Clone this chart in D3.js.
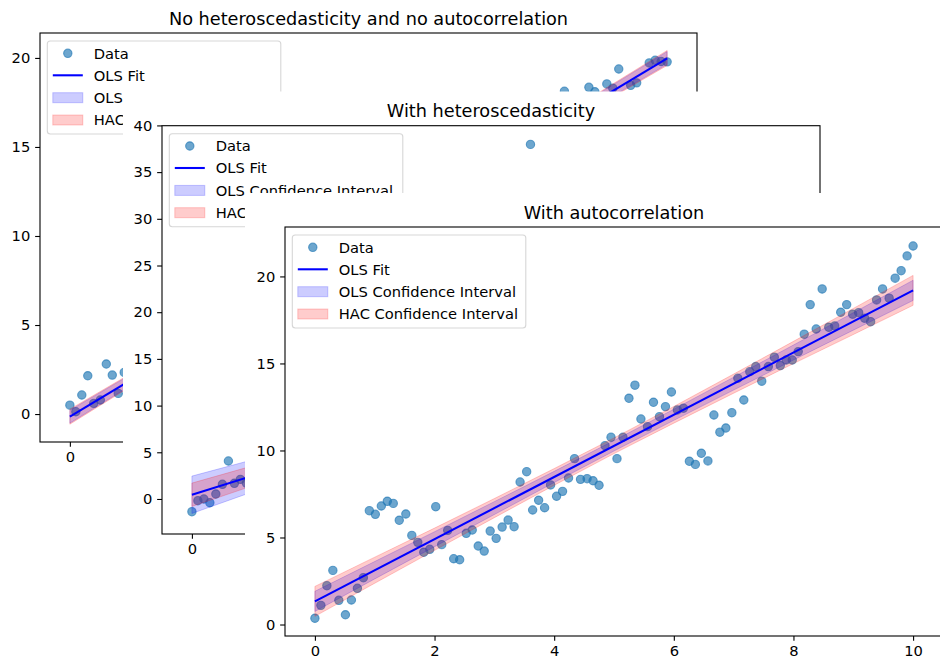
<!DOCTYPE html>
<html><head><meta charset="utf-8">
<script src="https://cdn.jsdelivr.net/npm/d3@7"></script>
<style>body{margin:0;background:#fff} text{font-family:"DejaVu Sans",sans-serif;fill:#000}</style>
</head><body><svg id="c" width="940" height="659"></svg>
<script>
// ---------- shared ----------
const xTicks = [0, 2, 4, 6, 8, 10];
const legendLabels = ["Data", "OLS Fit", "OLS Confidence Interval", "HAC Confidence Interval"];
const bandX = [0, 1, 2, 3, 4, 5, 6, 7, 8, 9, 10];
const fitX = [0, 10];

// ---------- panel 1 : No heteroscedasticity and no autocorrelation ----------
const p1Title = "No heteroscedasticity and no autocorrelation";
const p1YTicks = [0, 5, 10, 15, 20];
const p1X = [0.00, 0.10, 0.20, 0.30, 0.40, 0.51, 0.61, 0.71, 0.81, 0.91, 8.28, 8.69, 8.79, 8.99, 9.09, 9.19, 9.39, 9.49, 9.70, 9.80, 9.90, 10.00];
const p1Y = [0.50, 0.13, 1.07, 2.15, 0.60, 0.79, 2.81, 2.19, 1.16, 2.34, 18.13, 18.35, 18.10, 18.54, 18.30, 19.38, 18.46, 18.60, 19.72, 19.87, 19.80, 19.78];
const p1FitY = [-0.15, 19.98];
const p1OlsLo = [-0.51, 1.56, 3.62, 5.68, 7.72, 9.75, 11.75, 13.74, 15.71, 17.68, 19.64];
const p1OlsHi = [0.21, 2.18, 4.14, 6.12, 8.10, 10.11, 12.13, 14.18, 16.23, 18.30, 20.36];
const p1HacLo = [-0.57, 1.51, 3.58, 5.64, 7.69, 9.72, 11.72, 13.70, 15.67, 17.63, 19.58];
const p1HacHi = [0.27, 2.23, 4.18, 6.16, 8.13, 10.14, 12.16, 14.22, 16.27, 18.35, 20.42];

// ---------- panel 2 : With heteroscedasticity ----------
const p2Title = "With heteroscedasticity";
const p2YTicks = [0, 5, 10, 15, 20, 25, 30, 35, 40];
const p2X = [0.00, 0.10, 0.20, 0.30, 0.40, 0.51, 0.61, 0.71, 0.81, 0.91, 5.66];
const p2Y = [-1.36, -0.18, 0.00, -0.40, 0.53, 1.57, 4.07, 1.68, 2.10, 1.70, 37.97];
const p2FitY = [0.45, 20.45];
const p2OlsLo = [-1.55, 0.73, 2.99, 5.21, 7.37, 9.43, 11.37, 13.21, 14.99, 16.73, 18.45];
const p2OlsHi = [2.45, 4.17, 5.91, 7.69, 9.53, 11.47, 13.53, 15.69, 17.91, 20.17, 22.45];
const p2HacLo = [-0.80, 1.38, 3.54, 5.67, 7.77, 9.81, 11.77, 13.67, 15.54, 17.38, 19.20];
const p2HacHi = [1.70, 3.52, 5.36, 7.23, 9.13, 11.09, 13.13, 15.23, 17.36, 19.52, 21.70];

// ---------- panel 3 : With autocorrelation ----------
const p3Title = "With autocorrelation";
const p3YTicks = [0, 5, 10, 15, 20];
const p3X = [0.00,0.10,0.20,0.30,0.40,0.51,0.61,0.71,0.81,0.91,1.01,1.11,1.21,1.31,1.41,1.52,1.62,1.72,1.82,1.92,
  2.02,2.12,2.22,2.32,2.42,2.53,2.63,2.73,2.83,2.93,3.03,3.13,3.23,3.33,3.43,3.54,3.64,3.74,3.84,3.94,
  4.04,4.14,4.24,4.34,4.44,4.55,4.65,4.75,4.85,4.95,5.05,5.15,5.25,5.35,5.45,5.56,5.66,5.76,5.86,5.96,
  6.06,6.16,6.26,6.36,6.46,6.57,6.67,6.77,6.87,6.97,7.07,7.17,7.27,7.37,7.47,7.58,7.68,7.78,7.88,7.98,
  8.08,8.18,8.28,8.38,8.48,8.59,8.69,8.79,8.89,8.99,9.09,9.19,9.29,9.39,9.49,9.60,9.70,9.80,9.90,10.00];
const p3Y = [0.36,1.10,2.23,3.11,1.39,0.56,1.41,2.08,2.69,6.54,6.33,6.81,7.08,6.96,5.99,6.35,5.12,4.72,4.15,4.32,
  6.77,4.59,5.41,3.78,3.72,5.24,5.43,4.51,4.22,5.37,4.95,5.60,6.00,5.62,8.19,8.78,6.58,7.14,6.71,8.02,
  7.37,7.65,8.42,9.53,8.34,8.38,8.26,8.00,10.28,10.76,9.53,10.76,13.00,13.75,11.81,11.37,12.77,11.94,12.52,13.36,
  12.33,12.43,9.38,9.20,9.84,9.40,12.04,11.05,11.29,12.17,14.15,12.90,14.53,14.82,13.98,14.82,15.36,14.88,15.20,15.20,
  15.68,16.68,18.38,16.98,19.28,17.08,17.16,17.94,18.38,17.83,17.92,17.60,17.40,18.65,19.28,18.75,19.90,20.33,21.18,21.75];
const p3FitY = [1.33, 19.20];
const p3OlsLo = [0.75, 2.62, 4.47, 6.32, 8.16, 9.97, 11.73, 13.47, 15.20, 16.91, 18.62];
const p3OlsHi = [1.91, 3.62, 5.33, 7.06, 8.80, 10.57, 12.37, 14.21, 16.06, 17.91, 19.78];
const p3HacLo = [0.47, 2.37, 4.26, 6.14, 8.00, 9.82, 11.57, 13.29, 14.99, 16.66, 18.34];
const p3HacHi = [2.19, 3.87, 5.54, 7.24, 8.96, 10.72, 12.53, 14.39, 16.27, 18.16, 20.06];

// ---------- drawing ----------
const svg = d3.select("#c");
svg.append("rect").attr("width", 940).attr("height", 659).attr("fill", "#fff");

const FS = 14.7;
const TFS = 17.7;
const C0 = "#1f77b4";

function panel(id, cfg, d) {
  const g = svg.append("g");
  // window background
  g.append("rect").attr("x", cfg.win[0]).attr("y", cfg.win[1])
    .attr("width", 1200).attr("height", 900).attr("fill", "#fff");
  const L = cfg.left, T = cfg.top, W = cfg.w, H = cfg.h;
  const x = d3.scaleLinear().domain([-0.5, 10.5]).range([L, L + W]);
  const y = d3.scaleLinear().domain(cfg.yDomain).range([T + H, T]);

  const clipId = "clip" + id;
  g.append("clipPath").attr("id", clipId).append("rect")
    .attr("x", L).attr("y", T).attr("width", W).attr("height", H);
  const plot = g.append("g").attr("clip-path", `url(#${clipId})`);

  // scatter
  plot.selectAll("circle").data(d.xs.map((v, i) => [v, d.ys[i]])).join("circle")
    .attr("cx", p => x(p[0])).attr("cy", p => y(p[1])).attr("r", 4.17)
    .attr("fill", C0).attr("fill-opacity", 0.65)
    .attr("stroke", C0).attr("stroke-opacity", 0.65).attr("stroke-width", 1.1);

  // bands
  const mk = (lo, hi) => bandX.map((v, i) => ({x: v, lo: lo[i], hi: hi[i]}));
  const area = d3.area().x(p => x(p.x)).y0(p => y(p.lo)).y1(p => y(p.hi));
  plot.append("path").attr("d", area(mk(d.olsLo, d.olsHi)))
    .attr("fill", "blue").attr("fill-opacity", 0.2)
    .attr("stroke", "blue").attr("stroke-opacity", 0.2).attr("stroke-width", 1);
  plot.append("path").attr("d", area(mk(d.hacLo, d.hacHi)))
    .attr("fill", "red").attr("fill-opacity", 0.2)
    .attr("stroke", "red").attr("stroke-opacity", 0.2).attr("stroke-width", 1);

  // fit line
  const line = d3.line().x(p => x(p[0])).y(p => y(p[1]));
  plot.append("path").attr("d", line(fitX.map((v, i) => [v, d.fitY[i]])))
    .attr("fill", "none").attr("stroke", "blue").attr("stroke-width", 2.08);

  // axes
  const xa = g.append("g").attr("transform", `translate(0,${T + H})`)
    .call(d3.axisBottom(x).tickValues(xTicks).tickSize(4.86).tickPadding(4.86).tickFormat(d3.format("d")));
  const ya = g.append("g").attr("transform", `translate(${L},0)`)
    .call(d3.axisLeft(y).tickValues(d.yTicks).tickSize(4.86).tickPadding(4.86).tickFormat(d3.format("d")));
  [xa, ya].forEach(a => {
    a.select(".domain").remove();
    a.selectAll("line").attr("stroke", "#000").attr("stroke-width", 1.1);
    a.selectAll("text").attr("font-size", FS).attr("font-family", "DejaVu Sans").attr("fill", "#000");
  });
  // spines
  g.append("rect").attr("x", L).attr("y", T).attr("width", W).attr("height", H)
    .attr("fill", "none").attr("stroke", "#000").attr("stroke-width", 1.1);

  // title
  g.append("text").attr("x", L + W / 2).attr("y", T - 8.5).attr("text-anchor", "middle")
    .attr("font-size", TFS).text(d.title);

  // legend
  const bx = L + 7.3, by = T + 8;
  const lg = g.append("g");
  lg.append("rect").attr("x", bx).attr("y", by).attr("width", 233.5).attr("height", 93)
    .attr("rx", 3).attr("fill", "#fff").attr("fill-opacity", 0.8)
    .attr("stroke", "#ccc").attr("stroke-opacity", 0.8).attr("stroke-width", 1.1);
  const rows = [20.3, 42.3, 64.7, 87.0].map(r => T + r);
  const h0 = bx + 5.5, h1 = bx + 35.5;
  lg.append("circle").attr("cx", (h0 + h1) / 2).attr("cy", rows[0]).attr("r", 4.17)
    .attr("fill", C0).attr("fill-opacity", 0.65).attr("stroke", C0).attr("stroke-opacity", 0.65).attr("stroke-width", 1.1);
  lg.append("line").attr("x1", h0).attr("x2", h1).attr("y1", rows[1]).attr("y2", rows[1])
    .attr("stroke", "blue").attr("stroke-width", 2.08);
  [["blue", 2], ["red", 3]].forEach(([c, r]) => {
    lg.append("rect").attr("x", h0).attr("y", rows[r] - 5).attr("width", h1 - h0).attr("height", 10)
      .attr("fill", c).attr("fill-opacity", 0.2).attr("stroke", c).attr("stroke-opacity", 0.2).attr("stroke-width", 1);
  });
  legendLabels.forEach((t, i) => {
    lg.append("text").attr("x", bx + 46.5).attr("y", rows[i] + 5.3).attr("font-size", FS).text(t);
  });
}

panel(1, {win: [0, 0], left: 40, top: 33, w: 657, h: 409, yDomain: [-1.57, 21.4]},
  {title: p1Title, xs: p1X, ys: p1Y, fitY: p1FitY, olsLo: p1OlsLo, olsHi: p1OlsHi, hacLo: p1HacLo, hacHi: p1HacHi, yTicks: p1YTicks});
panel(2, {win: [123, 91.5], left: 162, top: 125.7, w: 658, h: 408.3, yDomain: [-3.75, 39.97]},
  {title: p2Title, xs: p2X, ys: p2Y, fitY: p2FitY, olsLo: p2OlsLo, olsHi: p2OlsHi, hacLo: p2HacLo, hacHi: p2HacHi, yTicks: p2YTicks});
panel(3, {win: [245, 193], left: 285, top: 227, w: 658, h: 409, yDomain: [-0.66, 22.84]},
  {title: p3Title, xs: p3X, ys: p3Y, fitY: p3FitY, olsLo: p3OlsLo, olsHi: p3OlsHi, hacLo: p3HacLo, hacHi: p3HacHi, yTicks: p3YTicks});
</script></body></html>
